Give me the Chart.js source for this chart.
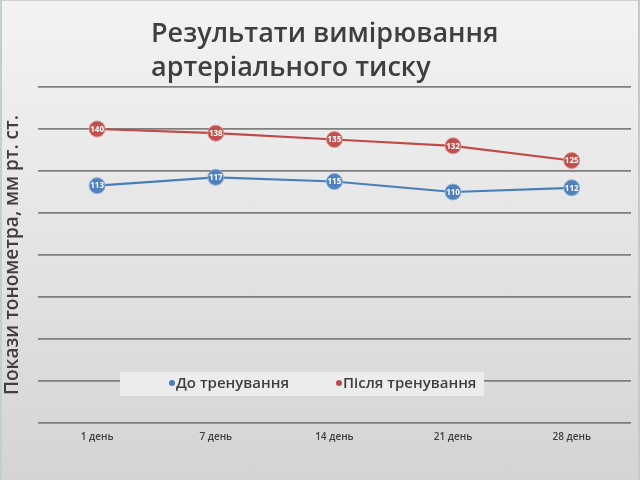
<!DOCTYPE html>
<html><head><meta charset="utf-8">
<script src="https://cdn.jsdelivr.net/npm/chart.js@4/dist/chart.umd.min.js"></script>
<style>
html,body{margin:0;padding:0;}
body{width:640px;height:480px;background:linear-gradient(#f3f3f3 0%,#e6e6e6 45%,#d4d4d4 100%);overflow:hidden;position:relative}
canvas{display:block}
#edge{position:absolute;left:0;top:0;width:640px;height:480px;box-sizing:border-box;border-left:2px solid #c2d0ca;border-top:1px solid #cfcfcf;border-right:2px solid #c8c8c8;pointer-events:none}
</style></head><body><canvas id="c" width="640" height="480"></canvas><div id="edge"></div>
<script>
const titleLines = ["Результати вимірювання", "артеріального тиску"];
const yAxisTitle = "Покази тонометра, мм рт. ст.";
const categories = ["1 день", "7 день", "14 день", "21 день", "28 день"];
const seriesNames = ["До тренування", "Після тренування"];
const beforeValues = [113, 117, 115, 110, 112];
const afterValues = [140, 138, 135, 132, 125];
const yMin = 0, yMax = 160, yStep = 20;

const BLUE = '#4a7ebb', RED = '#be4b48';
const TXT = '#3f3f3f';

const titlePlugin = {
  id: 'titleDraw',
  afterDraw(chart) {
    const ctx = chart.ctx;
    ctx.save();
    ctx.fillStyle = TXT;
    ctx.font = '600 27px "Open Sans"';
    ctx.textBaseline = 'alphabetic';
    ctx.textAlign = 'left';
    ctx.fillText(titleLines[0], 151, 42);
    ctx.fillText(titleLines[1], 151, 76);
    ctx.restore();
  }
};

const labelPlugin = {
  id: 'valueLabels',
  afterDatasetsDraw(chart) {
    const ctx = chart.ctx;
    ctx.save();
    ctx.fillStyle = '#ffffff';
    ctx.font = 'bold 8px "Open Sans"';
    ctx.textAlign = 'center';
    ctx.textBaseline = 'middle';
    chart.data.datasets.forEach((ds, i) => {
      chart.getDatasetMeta(i).data.forEach((pt, j) => {
        ctx.fillText(String(ds.data[j]), pt.x, pt.y + 0.5);
      });
    });
    ctx.restore();
  }
};

const legendPlugin = {
  id: 'innerLegend',
  afterDraw(chart) {
    const ctx = chart.ctx;
    const y = chart.scales.y.getPixelForValue(20);
    ctx.save();
    ctx.fillStyle = 'rgba(236,236,236,1)';
    ctx.fillRect(120, y - 9, 364, 24);
    ctx.font = '600 15px "Open Sans"';
    ctx.textBaseline = 'middle';
    ctx.textAlign = 'left';
    const items = [[seriesNames[0], BLUE, 172], [seriesNames[1], RED, 339]];
    items.forEach(([t, c, x]) => {
      ctx.fillStyle = c;
      ctx.beginPath();
      ctx.arc(x, y + 2, 3, 0, Math.PI * 2);
      ctx.fill();
      ctx.fillStyle = TXT;
      ctx.fillText(t, x + 4, y + 3);
    });
    ctx.restore();
  }
};

new Chart(document.getElementById('c'), {
  type: 'line',
  data: {
    labels: categories,
    datasets: [
      { label: seriesNames[0], data: beforeValues, borderColor: BLUE, backgroundColor: '#4f81bd',
        pointBorderColor: '#8fb0d8', pointBorderWidth: 1, pointRadius: 8, borderWidth: 2.2, tension: 0 },
      { label: seriesNames[1], data: afterValues, borderColor: RED, backgroundColor: '#c0504d',
        pointBorderColor: '#dc9492', pointBorderWidth: 1, pointRadius: 8, borderWidth: 2.2, tension: 0 }
    ]
  },
  options: {
    responsive: false,
    animation: false,
    layout: { padding: { top: 87, right: 8, bottom: 37, left: 1 } },
    plugins: { legend: { display: false }, title: { display: false }, tooltip: { enabled: false } },
    scales: {
      x: {
        offset: true,
        grid: { display: false },
        border: { display: false },
        ticks: { color: TXT, font: { family: 'Open Sans', size: 10, weight: '600' }, padding: 0 }
      },
      y: {
        min: yMin, max: yMax,
        ticks: { display: false, stepSize: yStep },
        grid: { color: 'rgba(115,115,115,0.9)', lineWidth: 1.7, drawTicks: false },
        border: { display: false },
        title: { display: true, text: yAxisTitle, color: TXT,
                 font: { family: 'Open Sans', size: 19, weight: '600' }, padding: { top: 0, bottom: 14 } }
      }
    }
  },
  plugins: [titlePlugin, labelPlugin, legendPlugin]
});
</script></body></html>
